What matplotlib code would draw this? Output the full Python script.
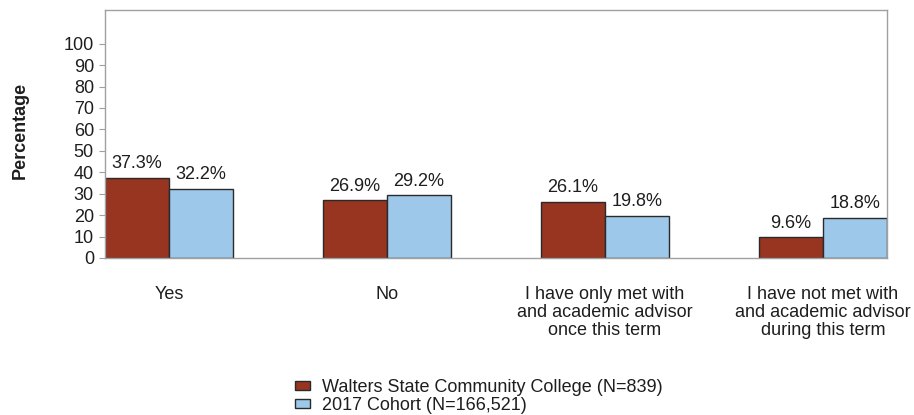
import matplotlib
matplotlib.use("Agg")
import matplotlib.pyplot as plt
import numpy as np

plt.rcParams['font.family'] = ['Liberation Sans', 'DejaVu Sans']

categories = [
    "Yes",
    "No",
    "I have only met with\nand academic advisor\nonce this term",
    "I have not met with\nand academic advisor\nduring this term",
]
college = [37.3, 26.9, 26.1, 9.6]
cohort = [32.2, 29.2, 19.8, 18.8]
series_names = ["Walters State Community College (N=839)", "2017 Cohort (N=166,521)"]
yticks = list(range(0, 101, 10))

red = "#973520"
blue = "#9DC8E9"
edge = "#2a2a2a"
spine_col = "#a0a0a0"
text_col = "#1e1e1e"
fs = 13

fig = plt.figure(figsize=(9.14, 4.15), dpi=100)
ax = fig.add_axes([105 / 914, 1 - 258 / 415, 782 / 914, 248 / 415])

x = np.arange(len(categories))
w = 0.2936
b1 = ax.bar(x - w / 2, college, w, color=red, edgecolor=edge, linewidth=1.0, label=series_names[0])
b2 = ax.bar(x + w / 2, cohort, w, color=blue, edgecolor=edge, linewidth=1.0, label=series_names[1])

for bars, vals in ((b1, college), (b2, cohort)):
    for r, v in zip(bars, vals):
        ax.annotate(f"{v}%", (r.get_x() + r.get_width() / 2, v), xytext=(0, 4),
                    textcoords="offset points", ha="center", va="bottom",
                    fontsize=fs, color=text_col)

ax.set_xlim(-w, 3 + w)
ax.set_ylim(0, 115.7)
ax.set_yticks(yticks)
ax.set_yticklabels([str(t) for t in yticks], fontsize=fs, color=text_col)
ax.tick_params(axis='y', length=4, width=0.8, color=spine_col, pad=4)
ax.set_xticks(x)
ax.set_xticklabels(categories, fontsize=fs, color=text_col, linespacing=1.1, va="top")
ax.tick_params(axis='x', length=0, pad=20)
for s in ax.spines.values():
    s.set_color(spine_col)
    s.set_linewidth(1.0)

fig.text(20 / 914, 1 - 130 / 415, "Percentage", rotation=90, fontsize=fs,
         fontweight="bold", ha="center", va="center", color=text_col)

fig.legend(handles=[b1, b2], labels=series_names, loc="upper left",
           bbox_to_anchor=(286 / 914, 1 - 370 / 415), frameon=False,
           fontsize=fs, handlelength=0.83, handleheight=0.45, handletextpad=0.67,
           labelspacing=0.05, borderpad=0, labelcolor=text_col)

fig.savefig("out.png", dpi=100)
